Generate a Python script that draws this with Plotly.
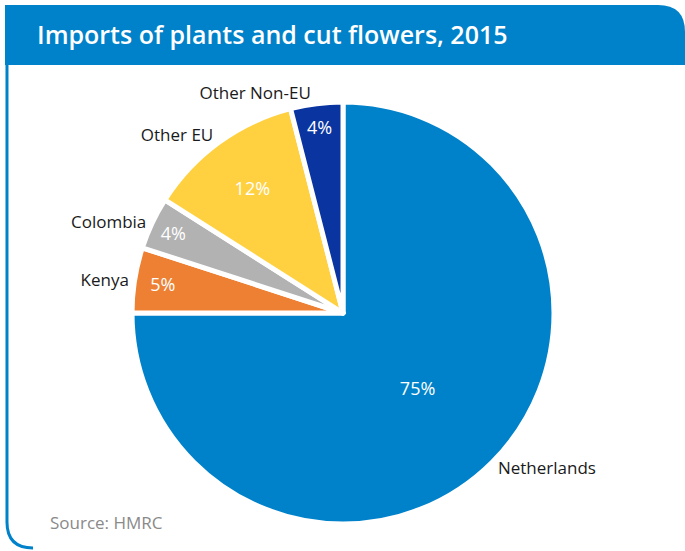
import plotly.graph_objects as go

W, H = 685, 551

# data
countries = ["Netherlands", "Kenya", "Colombia", "Other EU", "Other Non-EU"]
shares = [75, 5, 4, 12, 4]
colours = ["#0082CA", "#EE8033", "#B2B2B2", "#FFD141", "#0A35A0"]

title = "Imports of plants and cut flowers, 2015"
source = "Source: HMRC"


def px(x, y):
    # pixel -> paper coords
    return "%.4f,%.4f" % (x / W, 1 - y / H)


pie_dom = dict(x=[132 / W, 554 / W], y=[1 - 524 / H, 1 - 102 / H])

fig = go.Figure()

# slices + percentages inside
fig.add_trace(go.Pie(
    labels=countries, values=shares,
    sort=False, direction="clockwise", rotation=0,
    marker=dict(colors=colours, line=dict(color="white", width=5)),
    texttemplate="%{percent:.0%}",
    textposition="inside",
    insidetextorientation="horizontal",
    textfont=dict(family="Open Sans", size=18, color="white"),
    domain=pie_dom,
    showlegend=False,
))

# country names outside (transparent copy of the same pie)
fig.add_trace(go.Pie(
    labels=countries, values=shares,
    sort=False, direction="clockwise", rotation=0,
    marker=dict(colors=["rgba(0,0,0,0)"] * len(countries), line=dict(width=0)),
    textinfo="label",
    textposition="outside",
    textfont=dict(family="Open Sans", size=17, color="#1a1a1a"),
    domain=pie_dom,
    hoverinfo="skip",
    showlegend=False,
))

"""---------- FRAME ----------"""
banner = ("M " + px(5, 5) + " L " + px(658, 5) + " Q " + px(685, 5) + " " + px(685, 32)
          + " L " + px(685, 65) + " L " + px(5, 65) + " Z")
bracket = ("M " + px(7, 65) + " L " + px(7, 522) + " Q " + px(7, 548) + " " + px(33, 548))

fig.add_shape(type="path", path=banner, xref="paper", yref="paper",
              fillcolor="#0082CA", line=dict(width=0), layer="below")
fig.add_shape(type="path", path=bracket, xref="paper", yref="paper",
              line=dict(color="#0082CA", width=3), layer="below")

fig.update_layout(
    width=W, height=H,
    margin=dict(l=0, r=0, t=0, b=0),
    paper_bgcolor="white",
    title=dict(text=title, x=37 / W, xanchor="left", y=1 - 35 / H, yanchor="middle",
               font=dict(family="Open Sans", size=25, color="white", weight=600)),
    annotations=[dict(text=source, xref="paper", yref="paper", x=48 / W, y=1 - 522 / H,
                      xanchor="left", yanchor="middle", showarrow=False,
                      font=dict(family="Open Sans", size=17, color="#8a8a8a"))],
)

# drop the default 8px page margin so the figure sits at the window's corner
fig.write_html("out.html", config={"displayModeBar": False},
               post_script="document.body.style.margin='0';")
